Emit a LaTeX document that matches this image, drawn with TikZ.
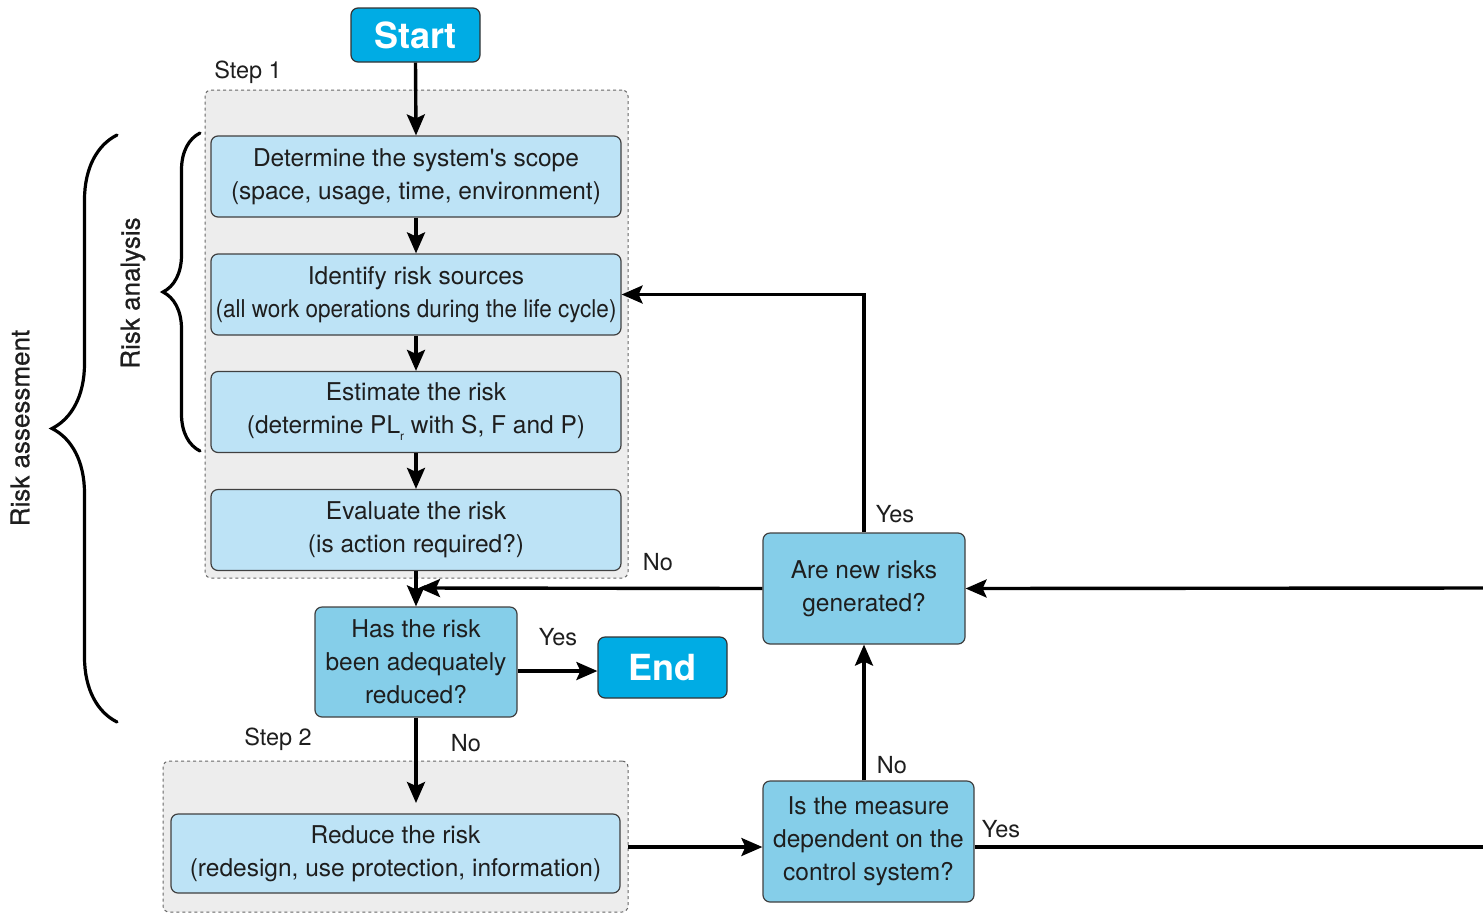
\documentclass[tikz,border=0pt]{standalone}
\usepackage{fontspec}
\setmainfont{TeX Gyre Heros}
\usetikzlibrary{arrows.meta,decorations.pathreplacing}

\definecolor{startc}{RGB}{0,172,228}
\definecolor{lightb}{RGB}{189,227,246}
\definecolor{decb}{RGB}{133,206,233}
\definecolor{bggray}{RGB}{237,237,237}
\definecolor{txt}{RGB}{30,30,30}

\begin{document}
\begin{tikzpicture}[x=1pt,y=-1pt,
 every node/.style={text=txt, font=\fontsize{24.5}{33}\selectfont, inner sep=0pt},
 stepbox/.style={draw=black!75, line width=1.2pt, fill=lightb, rounded corners=7pt, minimum width=410pt, minimum height=81pt, align=center},
 decbox/.style={draw=black!75, line width=1.2pt, fill=decb, rounded corners=7pt, align=center},
 termbox/.style={draw=black!80, line width=1.2pt, fill=startc, rounded corners=7pt, text=white, font=\fontsize{36}{40}\selectfont\bfseries},
 group/.style={draw=black!60, dashed, line width=1pt, fill=bggray, rounded corners=6pt},
 arr/.style={line width=3.4pt, -{Stealth[length=21pt,width=18pt,inset=4pt]}},
 ln/.style={line width=3.4pt},
 lbl/.style={font=\fontsize{23.5}{28}\selectfont},
 side/.style={rotate=90, font=\fontsize{26}{28}\selectfont\addfontfeature{FakeBold=0.6}},
 brc/.style={decorate, line width=3.2pt, line cap=round}
]
\useasboundingbox (0,0) rectangle (1483,914);

% groups
\node[group, minimum width=423pt, minimum height=488pt] (g1) at (416.5,334) {};
\node[group, minimum width=465pt, minimum height=151pt] (g2) at (395.5,836.5) {};
\node[lbl] (s1) at (248,72) {Step 1};
\node[lbl] (s2) at (278,739) {Step 2};

% terminals
\node[termbox, minimum width=129pt, minimum height=54pt] (start) at (415.5,35) {Start};
\node[termbox, minimum width=129pt, minimum height=61pt] (end) at (662.5,667.5) {End};

% step boxes
\node[stepbox] (b1) at (416,176.5) {Determine the system\textquotesingle s scope\\(space, usage, time, environment)};
\node[stepbox] (b2) at (416,294.5) {Identify risk sources\\\scalebox{0.92}[1]{(all work operations during the life cycle)}};
\node[stepbox] (b3) at (416,412) {Estimate the risk\\(determine PL\raisebox{-7pt}{\fontsize{12}{12}\selectfont r} with S, F and P)};
\node[stepbox] (b4) at (416,530) {Evaluate the risk\\(is action required?)};
\node[stepbox, minimum width=449pt, minimum height=79pt] (b5) at (395.5,853.5) {Reduce the risk\\(redesign, use protection, information)};

% decisions
\node[decbox, minimum width=202pt, minimum height=110pt] (d1) at (416,662) {Has the risk\\been adequately\\reduced?};
\node[decbox, minimum width=202pt, minimum height=111pt] (d2) at (864,588.5) {Are new risks\\generated?};
\node[decbox, minimum width=211pt, minimum height=121pt] (d3) at (868.5,841.5) {Is the measure\\dependent on the\\control system?};

% coordinates
\coordinate (join) at (419,588);
\coordinate (d1s) at (416,803);
\coordinate (r2) at (628,847);
\coordinate (ye) at (0,671);
\coordinate (re1) at (1483,588);
\coordinate (re2) at (1483,847);

% connectors
\draw[arr] (start.south) -- (b1.north);
\draw[arr] (b1.south) -- (b2.north);
\draw[arr] (b2.south) -- (b3.north);
\draw[arr] (b3.south) -- (b4.north);
\draw[arr] (b4.south) -- (d1.north);
\draw[arr] (d2.west) -- (join);
\draw[arr] (d1.east |- ye) -- (end.west |- ye);
\draw[arr] (d1.south) -- (d1s);
\draw[arr] (r2) -- (d3.west |- r2);
\draw[arr] (d3.north -| d2.south) -- (d2.south);
\draw[arr] (d2.north) |- (b2.east);
\draw[arr] (re1) -- (d2.east);
\draw[ln] (d3.east |- re2) -- (re2);

% connector labels
\node[lbl] (l1) at (895,514) {Yes};
\node[lbl] (l2) at (658,562) {No};
\node[lbl] (l3) at (558,637) {Yes};
\node[lbl] (l4) at (466,743) {No};
\node[lbl] (l5) at (892,765) {No};
\node[lbl] (l6) at (1001,829) {Yes};

% braces
\coordinate (ob1) at (117,722);
\coordinate (ob2) at (117,135);
\coordinate (ib1) at (200,451);
\coordinate (ib2) at (200,133);
\draw[brc, decoration={brace, amplitude=65pt, aspect=0.5}] (ob1) -- (ob2);
\draw[brc, decoration={brace, amplitude=37pt, aspect=0.5}] (ib1) -- (ib2);
\node[side] (ra) at (20,428) {Risk assessment};
\node[side] (ran) at (133,293) {Risk analysis};
\end{tikzpicture}
\end{document}
